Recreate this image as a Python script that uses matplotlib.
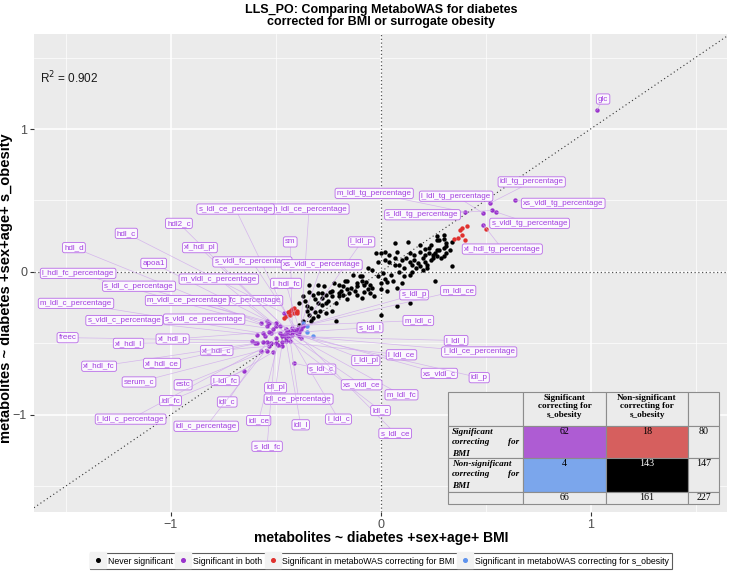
import matplotlib
matplotlib.use("Agg")
import matplotlib.pyplot as plt
from matplotlib import font_manager
from matplotlib.patches import Rectangle
from matplotlib.lines import Line2D
from matplotlib.ticker import MultipleLocator

plt.rcParams['font.family'] = ['Liberation Sans', 'DejaVu Sans']
installed = {f.name for f in font_manager.fontManager.ttflist}
NARROW = "Liberation Sans Narrow" in installed

# ---- data (x: corrected for BMI, y: corrected for s_obesity) ----
black_x = [0.07, 0.13, 0.21, 0.23, 0.27, 0.28, 0.30, 0.34, 0.31, 0.25,
           0.26, 0.27, 0.28, 0.30, 0.31, 0.33, 0.31, 0.30, -0.02, 0.00,
           0.02, 0.07, 0.10, 0.12, 0.14, 0.16, 0.18, 0.20, 0.21, 0.22,
           0.24, 0.17, 0.19, 0.20, 0.22, 0.34, -0.06, 0.01, 0.05, 0.09,
           0.11, 0.14, 0.15, -0.13, -0.10, -0.09, -0.20, -0.18, -0.14, -0.27,
           -0.08, -0.04, 0.00, 0.00, 0.03, -0.37, -0.32, -0.31, -0.30, -0.30,
           -0.28, -0.29, -0.31, -0.34, -0.35, -0.32, -0.30, -0.26, -0.24, -0.23,
           -0.20, -0.20, -0.18, -0.16, -0.15, -0.16, -0.12, -0.11, -0.11, -0.09,
           -0.22, -0.17, -0.07, -0.05, -0.06, -0.05, 0.08, 0.08, 0.14, 0.00,
           -0.21, 0.26, -0.34, -0.28, -0.25, -0.26, -0.23, -0.21, -0.35, -0.37,
           -0.33, -0.39, 0.04, 0.07, 0.09, 0.11, 0.15, 0.23, 0.25, 0.27,
           0.29, 0.21, 0.19, 0.16, 0.14, 0.08, 0.04, 0.02, -0.01, -0.04,
           -0.01, 0.02, 0.06, 0.10, -0.09, -0.11, -0.16, -0.19, -0.23, -0.26,
           -0.28, -0.33, -0.36, -0.39, -0.34, -0.30, -0.08, -0.03, 0.03, 0.19,
           0.24, 0.30, 0.27]
black_y = [0.20, 0.21, 0.16, 0.17, 0.22, 0.22, 0.23, 0.21, 0.20, 0.12,
           0.13, 0.15, 0.15, 0.17, 0.18, 0.15, 0.13, 0.11, 0.13, 0.13,
           0.14, 0.10, 0.08, 0.10, 0.07, 0.08, 0.06, 0.10, 0.07, 0.05,
           0.08, 0.03, 0.04, 0.01, 0.03, 0.04, 0.03, -0.01, -0.02, 0.00,
           -0.03, -0.02, 0.00, -0.02, -0.03, -0.03, -0.09, -0.10, -0.11, -0.10,
           -0.09, -0.11, -0.08, -0.12, -0.07, -0.17, -0.16, -0.19, -0.15, -0.22,
           -0.23, -0.27, -0.28, -0.30, -0.27, -0.32, -0.31, -0.16, -0.14, -0.13,
           -0.15, -0.17, -0.16, -0.19, -0.15, -0.12, -0.13, -0.10, -0.16, -0.18,
           -0.08, -0.06, -0.07, -0.09, -0.12, -0.15, -0.11, -0.24, -0.22, -0.30,
           -0.34, -0.06, -0.09, -0.15, -0.20, -0.29, -0.27, -0.22, -0.24, -0.34,
           -0.34, -0.37, 0.07, 0.05, 0.05, 0.03, 0.05, 0.13, 0.10, 0.11,
           0.10, 0.12, 0.14, 0.12, 0.13, 0.14, 0.12, 0.08, 0.07, 0.01,
           -0.03, -0.05, -0.06, -0.08, -0.06, -0.08, -0.06, -0.13, -0.17, -0.22,
           -0.18, -0.25, -0.20, -0.22, -0.14, -0.09, -0.14, -0.17, -0.13, 0.19,
           0.19, 0.26, 0.25]

red_x = [0.35, 0.37, 0.38, 0.39, 0.41, 0.39, 0.40, 0.50, -0.44,
         -0.42, -0.41, -0.40, -0.41, -0.43, -0.45, -0.40, -0.43, -0.46]
red_y = [0.23, 0.24, 0.29, 0.31, 0.32, 0.26, 0.22, 0.30, -0.28,
         -0.26, -0.25, -0.27, -0.29, -0.30, -0.31, -0.29, -0.27, -0.32]

blue_x = [-0.37, -0.35, -0.35, -0.32]
blue_y = [-0.36, -0.38, -0.42, -0.45]

purple_names = ["glc", "idl_tg_percentage", "xs_vldl_tg_percentage", "l_ldl_tg_percentage",
                "m_ldl_tg_percentage", "s_ldl_tg_percentage", "s_vldl_tg_percentage",
                "xl_hdl_tg_percentage", "m_ldl_ce_percentage", "m_vldl_fc_percentage",
                "s_ldl_ce_percentage", "hdl2_c", "hdl_c", "hdl_d", "xl_hdl_pl", "sm", "l_ldl_p",
                "apoa1", "s_vldl_fc_percentage", "xs_vldl_c_percentage", "l_hdl_fc_percentage",
                "s_ldl_c_percentage", "m_vldl_c_percentage", "l_hdl_fc", "m_ldl_c_percentage",
                "m_vldl_ce_percentage", "s_vldl_c_percentage", "s_vldl_ce_percentage", "freec",
                "xl_hdl_l", "xl_hdl_p", "xl_hdl_c", "xl_hdl_fc", "xl_hdl_ce", "serum_c", "estc",
                "l_ldl_fc", "idl_fc", "idl_c", "l_ldl_c_percentage", "idl_c_percentage", "idl_ce",
                "idl_pl", "idl_ce_percentage", "idl_l", "s_ldl_fc", "s_ldl_c", "l_ldl_c", "s_ldl_ce",
                "ldl_c", "m_ldl_fc", "xs_vldl_ce", "l_ldl_pl", "xs_vldl_c", "idl_p", "l_ldl_ce",
                "l_ldl_ce_percentage", "l_ldl_l", "s_ldl_l", "m_ldl_c", "s_ldl_p", "m_ldl_ce"]
purple_x = [1.03, 0.52, 0.64, 0.49, 0.40, 0.53, 0.55, 0.49, -0.38, -0.50,
            -0.41, -0.45, -0.46, -0.57, -0.44, -0.42, -0.37, -0.54, -0.40, -0.39,
            -0.54, -0.53, -0.45, -0.39, -0.56, -0.50, -0.59, -0.51, -0.61, -0.56,
            -0.53, -0.53, -0.60, -0.59, -0.57, -0.54, -0.51, -0.65, -0.54, -0.52,
            -0.50, -0.49, -0.47, -0.43, -0.45, -0.50, -0.41, -0.43, -0.38, -0.45,
            -0.42, -0.44, -0.42, -0.40, -0.39, -0.47, -0.46, -0.47, -0.48, -0.48,
            -0.55, -0.52]
purple_y = [1.13, 0.48, 0.50, 0.41, 0.42, 0.43, 0.42, 0.33, -0.40, -0.38,
            -0.41, -0.40, -0.29, -0.36, -0.41, -0.39, -0.38, -0.34, -0.40, -0.42,
            -0.38, -0.36, -0.43, -0.39, -0.43, -0.36, -0.44, -0.40, -0.48, -0.49,
            -0.42, -0.52, -0.50, -0.50, -0.55, -0.55, -0.56, -0.69, -0.49, -0.50,
            -0.46, -0.51, -0.52, -0.48, -0.48, -0.50, -0.64, -0.45, -0.46, -0.46,
            -0.44, -0.44, -0.42, -0.43, -0.45, -0.49, -0.44, -0.45, -0.43, -0.38,
            -0.45, -0.43]

# repelled label placement (data units), same order as purple_names
label_x = [1.06, 0.72, 0.87, 0.36, -0.03, 0.20, 0.71, 0.58, -0.34, -0.66,
           -0.69, -0.96, -1.21, -1.46, -0.86, -0.43, -0.09, -1.08, -0.61, -0.28,
           -1.44, -1.15, -0.77, -0.45, -1.45, -0.92, -1.22, -0.84, -1.49, -1.20,
           -0.99, -0.78, -1.34, -1.04, -1.15, -0.94, -0.74, -1.00, -0.73, -1.19,
           -0.83, -0.58, -0.50, -0.39, -0.38, -0.54, -0.28, -0.20, 0.07, 0.00,
           0.10, -0.09, -0.07, 0.28, 0.47, 0.10, 0.47, 0.36, -0.05, 0.18,
           0.16, 0.37]
label_y = [1.21, 0.63, 0.48, 0.53, 0.55, 0.40, 0.34, 0.16, 0.44, -0.20,
           0.44, 0.34, 0.27, 0.17, 0.17, 0.21, 0.21, 0.06, 0.07, 0.05,
           -0.01, -0.10, -0.05, -0.08, -0.22, -0.20, -0.34, -0.33, -0.46, -0.50,
           -0.47, -0.55, -0.66, -0.64, -0.77, -0.79, -0.76, -0.90, -0.91, -1.03,
           -1.08, -1.04, -0.81, -0.89, -1.07, -1.22, -0.68, -1.03, -1.13, -0.97,
           -0.86, -0.79, -0.62, -0.71, -0.74, -0.58, -0.56, -0.48, -0.39, -0.34,
           -0.16, -0.13]

r_squared = 0.902

col_heads = ["Significant\ncorrecting for\ns_obesity", "Non-significant\ncorrecting for\ns_obesity"]
row_heads = [("Significant", "BMI"), ("Non-significant", "BMI")]
counts = [[62, 18, 80], [4, 143, 147], [66, 161, 227]]

legend_labels = ["Never significant", "Significant in both",
                 "Significant in metaboWAS correcting for BMI",
                 "Significant in metaboWAS correcting for s_obesity"]

# ---- styling ----
C_BLACK = "#000000"
C_PURPLE = "#9932CC"
C_RED = "#E0312E"
C_BLUE = "#5E93EE"
LBL_TXT = "#A23EE0"
LBL_EDGE = "#B86AE8"
SEG = "#CFA8EC"
W, H = 729, 572

if NARROW:
    title_kw = dict(family="Liberation Sans Narrow", fontsize=10.8)
    xlab_kw = dict(family="Liberation Sans Narrow", fontsize=12.2)
else:
    title_kw = dict(fontsize=9.0)
    xlab_kw = dict(fontsize=10)


def fx(px):
    return px / W


def fy(py):
    return 1 - py / H


fig = plt.figure(figsize=(W / 100, H / 100), dpi=100)
ax = fig.add_axes([fx(34), fy(512), fx(727) - fx(34), fy(34) - fy(512)])
ax.set_facecolor("#EBEBEB")
ax.set_xlim(-1.65, 1.65)
ax.set_ylim(-1.68, 1.665)
for s in ax.spines.values():
    s.set_visible(False)
ax.xaxis.set_major_locator(MultipleLocator(1))
ax.yaxis.set_major_locator(MultipleLocator(1))
ax.xaxis.set_minor_locator(MultipleLocator(0.5))
ax.yaxis.set_minor_locator(MultipleLocator(0.5))
ax.grid(which="major", color="white", lw=1.1, zorder=0)
ax.grid(which="minor", color="white", lw=0.5, zorder=0)
ax.set_axisbelow(True)
ax.tick_params(which="major", length=3, width=0.8, color="#333333",
               labelcolor="#4D4D4D", labelsize=9, pad=2)
ax.tick_params(which="minor", length=0)

ax.axhline(0, color="#555555", lw=0.9, ls=(0, (1, 2)), zorder=1)
ax.axvline(0, color="#555555", lw=0.9, ls=(0, (1, 2)), zorder=1)
ax.axline((0, 0), slope=1, color="#333333", lw=0.8, ls=(0, (1, 2.5)), zorder=1)

ax.scatter(black_x, black_y, s=10, c=C_BLACK, lw=0, zorder=3)
ax.scatter(red_x, red_y, s=10, c=C_RED, lw=0, zorder=3)
ax.scatter(blue_x, blue_y, s=10, c=C_BLUE, lw=0, zorder=3)
ax.scatter(purple_x, purple_y, s=10, c=C_PURPLE, lw=0, zorder=3)

for i, name in enumerate(purple_names):
    z = 4 + i * 0.01
    ax.plot([purple_x[i], label_x[i]], [purple_y[i], label_y[i]],
            color=SEG, lw=0.5, alpha=0.8, zorder=z)
    ax.text(label_x[i], label_y[i], name, fontsize=5.8, color=LBL_TXT,
            ha="center", va="center", zorder=z + 0.005,
            bbox=dict(boxstyle="round,pad=0.2,rounding_size=0.25",
                      fc="#FBF8FD", ec=LBL_EDGE, lw=0.6))

ax.text(-1.62, 1.36, "R$^2$ = %.3f" % r_squared, fontsize=8.5, ha="left", va="center",
        color="#1A1A1A")

# titles
fig.text(fx(381), fy(4), "LLS_PO: Comparing MetaboWAS for diabetes\ncorrected for BMI or surrogate obesity",
         ha="center", va="top", fontweight="bold", linespacing=1.05, **title_kw)
fig.text(fx(381), fy(538), "metabolites ~ diabetes +sex+age+ BMI", ha="center", va="center",
         fontweight="bold", **xlab_kw)
fig.text(fx(6.5), fy(288), "metabolites ~ diabetes +sex+age+ s_obesity", ha="center", va="center",
         rotation=90, fontsize=10.5, fontweight="bold")

# ---- contingency table ----
xs = [448, 523, 606, 688, 719]
ys = [392, 426, 458, 492, 504]
fills = [["#EBEBEB", "#EBEBEB", "#EBEBEB", "#EBEBEB"],
         ["#EBEBEB", "#AE5CD3", "#D65F5E", "#EBEBEB"],
         ["#EBEBEB", "#7BA6EC", "#000000", "#EBEBEB"],
         ["#EBEBEB", "#EBEBEB", "#EBEBEB", "#EBEBEB"]]
serif = ["Liberation Serif", "DejaVu Serif"]
for r in range(4):
    for c in range(4):
        fig.patches.append(Rectangle((fx(xs[c]), fy(ys[r + 1])), fx(xs[c + 1]) - fx(xs[c]),
                                     fy(ys[r]) - fy(ys[r + 1]), transform=fig.transFigure,
                                     fc=fills[r][c], ec="#8C8C8C", lw=0.8, zorder=10))
for c, txt in enumerate(col_heads):
    fig.text(fx((xs[c + 1] + xs[c + 2]) / 2), fy(ys[0] + 1.5), txt, ha="center", va="top",
             fontsize=6.6, fontweight="bold", family=serif, linespacing=1.15, zorder=11)
for r, (first, last) in enumerate(row_heads):
    top = ys[r + 1] + 1.5
    fig.text(fx(452), fy(top), first, ha="left", va="top", fontsize=6.6, fontweight="bold",
             style="italic", family=serif, zorder=11)
    fig.text(fx(452), fy(top + 11), "correcting", ha="left", va="top", fontsize=6.6,
             fontweight="bold", style="italic", family=serif, zorder=11)
    fig.text(fx(519), fy(top + 11), "for", ha="right", va="top", fontsize=6.6,
             fontweight="bold", style="italic", family=serif, zorder=11)
    fig.text(fx(452), fy(top + 22), last, ha="left", va="top", fontsize=6.6, fontweight="bold",
             style="italic", family=serif, zorder=11)
for r in range(3):
    for c in range(3):
        col = "white" if fills[r + 1][c + 1] == "#000000" else "black"
        fig.text(fx((xs[c + 1] + xs[c + 2]) / 2), fy(ys[r + 1] + 1), str(counts[r][c]),
                 ha="center", va="top", fontsize=7.2, family=serif, color=col, zorder=11)

# ---- legend ----
key_bg = Line2D([], [], marker="s", ms=11, color="#F2F2F2", lw=0)
handles = [(key_bg, Line2D([], [], marker="o", ms=2.6, color=col, lw=0))
           for col in [C_BLACK, C_PURPLE, C_RED, C_BLUE]]
leg = fig.legend(handles, legend_labels, loc="center", bbox_to_anchor=(fx(381), fy(561)),
                 ncol=4, fontsize=6.3, frameon=True, fancybox=False, handlelength=1.1,
                 handletextpad=0.5, columnspacing=0.7, borderpad=0.45, edgecolor="#333333")
leg.get_frame().set_linewidth(0.8)

fig.savefig("out.png", dpi=100)
